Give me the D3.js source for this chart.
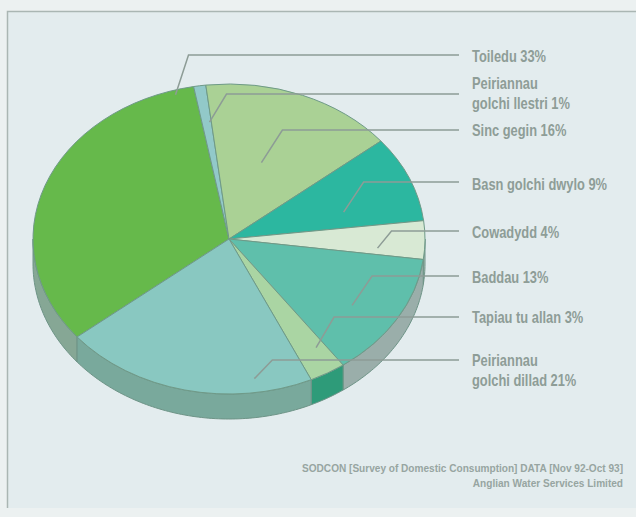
<!DOCTYPE html>
<html>
<head>
<meta charset="utf-8">
<script src="https://cdn.jsdelivr.net/npm/d3@7"></script>
<style>
  html, body { margin: 0; padding: 0; background: #e9eff0; }
  svg { display: block; }
</style>
</head>
<body>
<svg id="chart" width="636" height="517"></svg>
<script>
// Household water use by purpose (per cent of total)
const categoryLines = [
  ["Toiledu"],
  ["Peiriannau", "golchi llestri"],
  ["Sinc gegin"],
  ["Basn golchi dwylo"],
  ["Cowadydd"],
  ["Baddau"],
  ["Tapiau tu allan"],
  ["Peiriannau", "golchi dillad"]
];
const shares = [33, 1, 16, 9, 4, 13, 3, 21];
const sourceLines = [
  "SODCON [Survey of Domestic Consumption] DATA [Nov 92-Oct 93]",
  "Anglian Water Services Limited"
];

// Slice colours: top face and visible rim
const topColors = ["#66b94b", "#92c9c9", "#aad195", "#2cb7a0", "#d8e9d4", "#5fbfab", "#aad5a3", "#89c8c1"];
const sideColors = ["#86a795", "#86a795", "#86a795", "#3f9f88", "#a9bcb4", "#9aaeaa", "#2e9b79", "#79a99c"];

// Leader layout: position along the slice (0..1), radius fraction, elbow offset, line y
const leaderT = [0.95, 0.8, 0.44, 0.70, 0.78, 0.57, 0.3, 0.22];
const leaderR = [0.97, 0.76, 0.52, 0.61, 0.76, 0.76, 0.83, 0.91];
const elbowDx = [13, 17, 21, 20, 14, 20, 18, 18];
const lineY = [55, 94, 130, 182, 231, 276, 317, 360];
const textY = [56, 83, 130, 184, 232, 277, 317, 360];

const svg = d3.select("#chart");
const W = 636, H = 517;

// Panel and its frame (left and top edges)
svg.append("rect").attr("x", 0).attr("y", 0).attr("width", W).attr("height", H).attr("fill", "#ecf1f1");
svg.append("rect").attr("x", 7).attr("y", 11).attr("width", W).attr("height", 497).attr("fill", "#e3ecee");
svg.append("path").attr("d", `M7.5,508V11.5H${W}`)
  .attr("fill", "none").attr("stroke", "#aab6b3").attr("stroke-width", 1.5);

const cx = 229, cy = 239, rx = 196, ry = 155, depth = 25;
const deg = Math.PI / 180;
const start = -129.2 * deg;

const pie = d3.pie().sort(null).value(d => d).startAngle(start).endAngle(start + 2 * Math.PI);
const arcs = pie(shares);

const pt = (a, r = 1, dy = 0) => [cx + rx * r * Math.sin(a), cy - ry * r * Math.cos(a) + dy];

// Rim: only the front half (angles between 90 and 270 degrees) is visible
const rim = svg.append("g");
arcs.forEach((d, i) => {
  for (let k = -1; k <= 1; k++) {
    const lo = Math.max(d.startAngle, Math.PI / 2 + 2 * Math.PI * k);
    const hi = Math.min(d.endAngle, 3 * Math.PI / 2 + 2 * Math.PI * k);
    if (hi <= lo) continue;
    const n = Math.max(2, Math.ceil((hi - lo) / (1 * deg)));
    const topPts = d3.range(n + 1).map(j => pt(lo + (hi - lo) * j / n));
    const botPts = topPts.slice().reverse().map(p => [p[0], p[1] + depth]);
    rim.append("path")
      .attr("d", "M" + topPts.concat(botPts).map(p => p.join(",")).join("L") + "Z")
      .attr("fill", sideColors[i])
      .attr("stroke", "#6e9487").attr("stroke-width", 1);
  }
});

// Top face: circular arcs squashed into the ellipse
const arcGen = d3.arc().innerRadius(0).outerRadius(rx);
const face = svg.append("g").attr("transform", `translate(${cx},${cy}) scale(1,${ry / rx})`);
face.selectAll("path").data(arcs).join("path")
  .attr("d", arcGen)
  .attr("fill", (d, i) => topColors[i])
  .attr("stroke", "#6f9a88")
  .attr("stroke-width", 1)
  .attr("vector-effect", "non-scaling-stroke");

// Leader lines and labels (condensed lettering via horizontal scaling)
const labelX = 472, lineEnd = 459;
const leaders = svg.append("g").attr("fill", "none").attr("stroke", "#8d9c96").attr("stroke-width", 1.5);
const labels = svg.append("g")
  .attr("transform", `translate(${labelX},0) scale(0.78,1)`)
  .attr("font-family", "'Liberation Sans', Arial, sans-serif")
  .attr("font-weight", "bold")
  .attr("font-size", 16.5)
  .attr("fill", "#8e9d97");

arcs.forEach((d, i) => {
  const a = d.startAngle + (d.endAngle - d.startAngle) * leaderT[i];
  const p0 = pt(a, leaderR[i]);
  const elbow = [p0[0] + elbowDx[i], lineY[i]];
  leaders.append("path").attr("d", `M${p0[0]},${p0[1]}L${elbow[0]},${elbow[1]}L${lineEnd},${lineY[i]}`);

  const lines = categoryLines[i].slice();
  lines[lines.length - 1] = lines[lines.length - 1] + " " + shares[i] + "%";
  const t = labels.append("text").attr("y", textY[i]);
  lines.forEach((s, j) => {
    t.append("tspan").attr("x", 0).attr("dy", j === 0 ? "0.35em" : "1.25em").text(s);
  });
});

// Source note
const src = svg.append("g")
  .attr("transform", "translate(623,0) scale(0.96,1)")
  .attr("font-family", "'Liberation Sans', Arial, sans-serif")
  .attr("font-weight", "bold")
  .attr("font-size", 10.5)
  .attr("fill", "#97a5a1")
  .attr("text-anchor", "end");
sourceLines.forEach((s, j) => {
  src.append("text").attr("x", 0).attr("y", 472 + j * 15).text(s);
});
</script>
</body>
</html>
